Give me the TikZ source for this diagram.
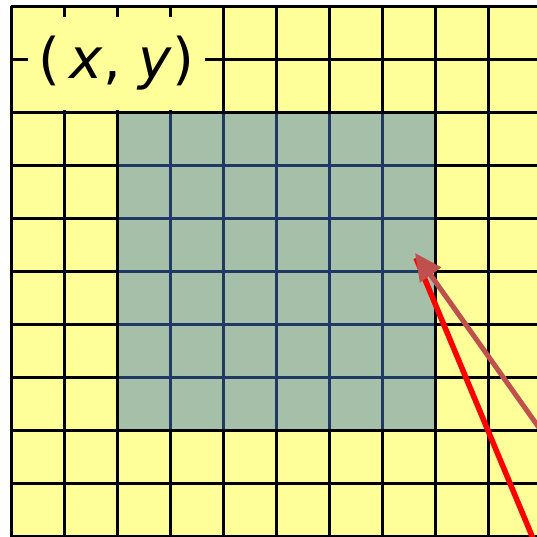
\documentclass[tikz,border=0pt]{standalone}
\usepackage{fontspec}
\setmainfont{DejaVu Sans}
\usetikzlibrary{arrows.meta}
\definecolor{gridyellow}{HTML}{FFFF99}
\definecolor{gridgreen}{HTML}{A6BFA8}
\definecolor{gridnavy}{HTML}{1F3864}
\definecolor{arrowbrown}{HTML}{C0504D}
\begin{document}
\begin{tikzpicture}[x=1pt,y=-1pt,
  blackline/.style={line width=3pt, black},
  navyline/.style={line width=3pt, gridnavy},
  labelbox/.style={fill=gridyellow, inner sep=0pt, minimum width=177pt, minimum height=93pt, font=\fontsize{56}{66}\selectfont},
  redline/.style={line width=5.5pt, red},
  brownarrow/.style={line width=5pt, arrowbrown, -{Triangle[length=27pt,width=25pt]}}]
\useasboundingbox (0,0) rectangle (537,536);
\clip (0,0) rectangle (537,536);
\fill[gridyellow] (11,6) rectangle (600,600);
\foreach \i in {0,...,10} {
  \draw[blackline] (11+53*\i,6) -- (11+53*\i,560);
  \draw[blackline] (11,6+53*\i) -- (600,6+53*\i);
}
\fill[gridgreen] (118.5,113.5) rectangle (433.5,428.5);
\foreach \i in {1,...,5} {
  \draw[navyline] (117+53*\i,113.5) -- (117+53*\i,428.5);
  \draw[navyline] (118.5,112+53*\i) -- (433.5,112+53*\i);
}
\node[labelbox] (lbl) at (116.5,63.5) {(\,\textit{x}, \textit{y})};
\coordinate (tip) at (415,253);
\coordinate (redend) at (416,258);
\coordinate (redstart) at (537,548);
\coordinate (brownstart) at (557,453);
\draw[redline] (redstart) -- (redend);
\draw[brownarrow] (brownstart) -- (tip);
\end{tikzpicture}
\end{document}
